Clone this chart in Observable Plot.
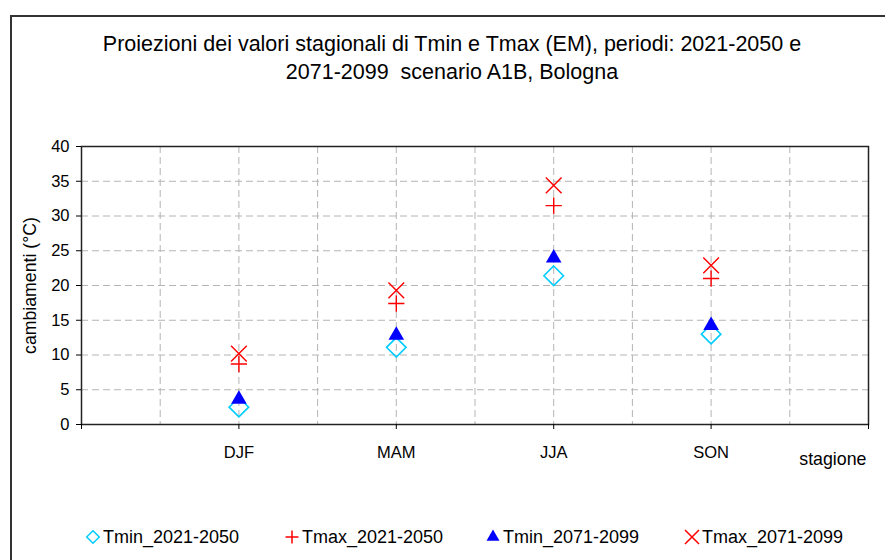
<!DOCTYPE html>
<html>
<head>
<meta charset="utf-8">
<script src="https://cdn.jsdelivr.net/npm/d3@7"></script>
<script src="https://cdn.jsdelivr.net/npm/@observablehq/plot@0.6"></script>
<style>
  html, body { margin: 0; padding: 0; background: #fff; }
  #wrap { position: relative; width: 885px; height: 560px; overflow: hidden; font-family: "Liberation Sans", Arial, sans-serif; color: #000; }
  #border { position: absolute; left: 10px; top: 15px; width: 1000px; height: 1000px; border: 2px solid #333; box-sizing: border-box; }
  #chart { position: absolute; left: 0; top: 0; }
  .title { position: absolute; left: 0; width: 904px; text-align: center; font-family: "Liberation Sans", Arial, sans-serif; font-size: 21.5px; white-space: pre; }
  .legend { position: absolute; top: 525px; display: flex; align-items: center; font-size: 18px; }
  .legend svg { margin-right: 1px; }
</style>
</head>
<body>
<div id="wrap">
  <div id="border"></div>
  <div id="chart"></div>
  <div class="title" id="t1" style="top:32px"></div>
  <div class="title" id="t2" style="top:60px"></div>
  <div id="legend"></div>
</div>
<script>
const titleLines = ["Proiezioni dei valori stagionali di Tmin e Tmax (EM), periodi: 2021-2050 e", "2071-2099  scenario A1B, Bologna"];
const seasons = ["DJF", "MAM", "JJA", "SON"];
const tmin2021 = [2.5, 11.1, 21.4, 13.0];
const tmax2021 = [8.7, 17.4, 31.5, 21.0];
const tmin2071 = [4.0, 13.2, 24.3, 14.6];
const tmax2071 = [10.2, 19.3, 34.4, 22.9];
const seriesNames = ["Tmin_2021-2050", "Tmax_2021-2050", "Tmin_2071-2099", "Tmax_2071-2099"];
const yTicks = [0, 5, 10, 15, 20, 25, 30, 35, 40];
const yLabel = "cambiamenti (°C)";
const xLabel = "stagione";

document.getElementById("t1").textContent = titleLines[0];
document.getElementById("t2").textContent = titleLines[1];

const rows = (vals) => vals.map((v, i) => ({pos: i + 1, season: seasons[i], value: v}));

const chart = Plot.plot({
  width: 885,
  height: 560,
  marginLeft: 81,
  marginRight: 17,
  marginTop: 146,
  marginBottom: 136,
  style: {fontFamily: "'Liberation Sans', Arial, sans-serif", color: "#000", background: "transparent"},
  x: {domain: [0, 5]},
  y: {domain: [0, 40]},
  marks: [
    Plot.gridX([0.5, 1, 1.5, 2, 2.5, 3, 3.5, 4, 4.5], {stroke: "#b4b4b4", strokeOpacity: 1, strokeDasharray: "7,4", strokeWidth: 1}),
    Plot.gridY([5, 10, 15, 20, 25, 30, 35], {stroke: "#b4b4b4", strokeOpacity: 1, strokeDasharray: "7,4", strokeWidth: 1}),
    Plot.frame({stroke: "#222", strokeWidth: 1.5}),
    Plot.axisY({ticks: yTicks, tickSize: 5, tickPadding: 7, label: null, stroke: "#000", fontSize: 16.5}),
    Plot.axisX({ticks: [0, 1, 2, 3, 4, 5], tickSize: 5, tickPadding: 17, label: null, fontSize: 16.5, tickFormat: d => seasons[d - 1] ?? ""}),
    Plot.text([yLabel], {frameAnchor: "left", dx: -51, rotate: -90, fontSize: 17.7, textAnchor: "middle"}),
    Plot.text([xLabel], {frameAnchor: "bottom-right", dx: -2, dy: 40, fontSize: 17.8, textAnchor: "end"}),
    Plot.dot(rows(tmin2021), {x: "pos", y: "value", symbol: "diamond2", r: 8.8, stroke: "#00ccff", strokeWidth: 1.6, fill: "none"}),
    Plot.dot(rows(tmax2021), {x: "pos", y: "value", symbol: "plus", r: 5.3, stroke: "#ff0000", strokeWidth: 1.4}),
    Plot.dot(rows(tmin2071), {x: "pos", y: "value", symbol: "triangle", r: 5.8, dy: 2.5, fill: "#0000ff", stroke: "none"}),
    Plot.dot(rows(tmax2071), {x: "pos", y: "value", symbol: "times", r: 7.2, stroke: "#ff0000", strokeWidth: 1.4})
  ]
});
document.getElementById("chart").appendChild(chart);

// legend
const legendSpec = [
  {name: seriesNames[0], left: 85, sym: d3.symbolDiamond2, size: 100, fill: "none", stroke: "#00ccff"},
  {name: seriesNames[1], left: 284, sym: d3.symbolPlus, size: 57, fill: "none", stroke: "#ff0000"},
  {name: seriesNames[2], left: 485, sym: d3.symbolTriangle, size: 73, fill: "#0000ff", stroke: "none"},
  {name: seriesNames[3], left: 684, sym: d3.symbolTimes, size: 130, fill: "none", stroke: "#ff0000"}
];
const leg = document.getElementById("legend");
for (const s of legendSpec) {
  const item = document.createElement("div");
  item.className = "legend";
  item.style.left = s.left + "px";
  const svg = d3.create("svg").attr("width", 17).attr("height", 24);
  svg.append("path").attr("transform", "translate(8,12)")
    .attr("d", d3.symbol(s.sym, s.size)())
    .attr("fill", s.fill).attr("stroke", s.stroke).attr("stroke-width", 1.5);
  item.appendChild(svg.node());
  const span = document.createElement("span");
  span.textContent = s.name;
  item.appendChild(span);
  leg.appendChild(item);
}
</script>
</body>
</html>
